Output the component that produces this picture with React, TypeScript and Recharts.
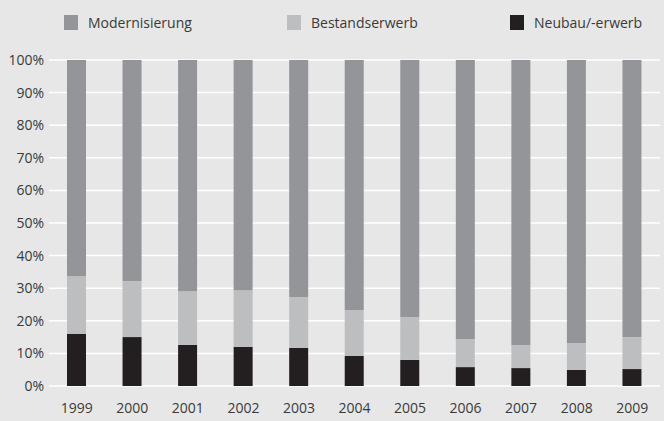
import { BarChart, Bar, XAxis, YAxis, CartesianGrid } from 'recharts';

const years = ['1999', '2000', '2001', '2002', '2003', '2004', '2005', '2006', '2007', '2008', '2009'];
const neubau = [16.0, 15.0, 12.6, 12.0, 11.7, 9.2, 8.0, 5.8, 5.5, 4.9, 5.2];
const bestand = [17.7, 17.2, 16.5, 17.4, 15.6, 14.1, 13.2, 8.6, 7.1, 8.3, 9.8];
const modern = [66.3, 67.8, 70.9, 70.6, 72.7, 76.7, 78.8, 85.6, 87.4, 86.8, 85.0];
const yTicks = [0, 10, 20, 30, 40, 50, 60, 70, 80, 90, 100];

const series = [
  { key: 'modern', name: 'Modernisierung', color: '#939598' },
  { key: 'bestand', name: 'Bestandserwerb', color: '#bcbec0' },
  { key: 'neubau', name: 'Neubau/-erwerb', color: '#231f20' },
];

const chartData = years.map((year, i) => ({
  year,
  neubau: neubau[i],
  bestand: bestand[i],
  modern: modern[i],
}));

const font = '"Open Sans", sans-serif';
const textColor = '#3a3a3a';

function ChartLegend() {
  return (
    <div style={{ position: 'absolute', top: 13, left: 64, display: 'flex', fontFamily: font, fontSize: 14, color: textColor }}>
      {series.map((s) => (
        <div key={s.key} style={{ display: 'flex', alignItems: 'center', width: 223 }}>
          <span style={{ display: 'inline-block', width: 14, height: 15, background: s.color, marginRight: 10 }} />
          <span>{s.name}</span>
        </div>
      ))}
    </div>
  );
}

export default function App() {
  const stacked = [...series].reverse();
  return (
    <div style={{ position: 'absolute', top: 0, left: 0, width: 664, height: 421, background: '#e6e7e6' }}>
      <ChartLegend />
      <BarChart
        width={664}
        height={421}
        data={chartData}
        margin={{ top: 60, right: 4, left: 0, bottom: 5 }}
        barSize={19}
      >
        <CartesianGrid vertical={false} stroke="#ffffff" strokeWidth={1.5} />
        <XAxis
          dataKey="year"
          axisLine={false}
          tickLine={false}
          tickSize={0}
          tickMargin={17}
          height={30}
          interval={0}
          tick={{ fontSize: 14, fill: textColor, fontFamily: font }}
        />
        <YAxis
          domain={[0, 100]}
          ticks={yTicks}
          axisLine={false}
          tickLine={false}
          tickSize={0}
          tickMargin={5}
          width={49}
          interval={0}
          tickFormatter={(v) => `${v}%`}
          tick={{ fontSize: 14, fill: textColor, fontFamily: font }}
        />
        {stacked.map((s) => (
          <Bar key={s.key} dataKey={s.key} name={s.name} stackId="a" fill={s.color} isAnimationActive={false} />
        ))}
      </BarChart>
    </div>
  );
}
